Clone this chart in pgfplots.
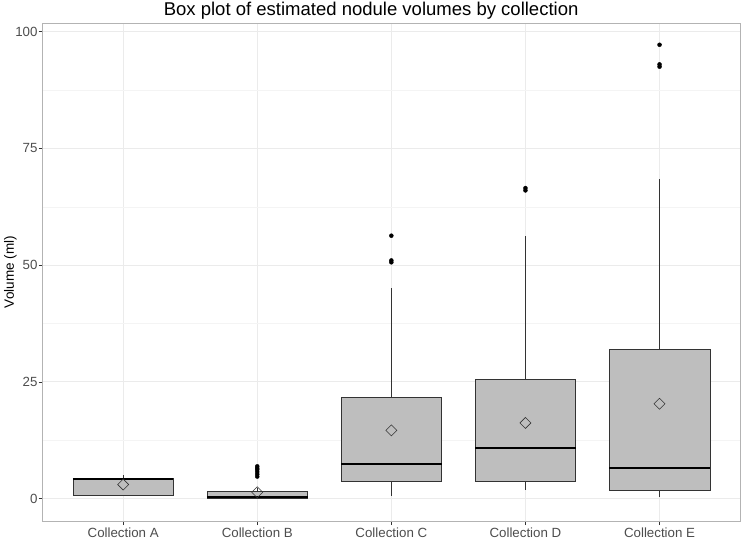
\documentclass[border=0pt]{standalone}
\usepackage{pgfplots}
\pgfplotsset{compat=1.18}
\usepgfplotslibrary{statistics}
\usepackage{fontspec}
\setmainfont{Liberation Sans}

\definecolor{gridmaj}{HTML}{EBEBEB}
\definecolor{gridmin}{HTML}{F4F4F4}
\definecolor{boxfill}{HTML}{BEBEBE}
\definecolor{boxline}{HTML}{333333}
\definecolor{ticktxt}{HTML}{4D4D4D}
\definecolor{panelframe}{HTML}{B3B3B3}

\begin{document}
\begin{tikzpicture}
\begin{axis}[
    scale only axis,
    width=697pt, height=498pt,
    xmin=0.4, xmax=5.6,
    ymin=-4.86, ymax=101.86,
    xtick={1,2,3,4,5},
    xticklabels={Collection A,Collection B,Collection C,Collection D,Collection E},
    ytick={0,25,50,75,100},
    minor ytick={12.5,37.5,62.5,87.5},
    grid=both,
    major grid style={gridmaj, line width=0.8pt},
    minor grid style={gridmin, line width=0.5pt},
    axis line style={panelframe, line width=0.8pt},
    tick pos=left,
    tick align=outside,
    major tick length=4pt,
    minor tick length=0pt,
    tick style={boxline, line width=0.6pt},
    ticklabel style={font=\fontsize{13.3}{15}\selectfont, text=ticktxt},
    yticklabel style={inner sep=1pt},
    xticklabel style={inner sep=1pt, yshift=-1.5pt},
    /pgf/number format/assume math mode=true,
    title={Box plot of estimated nodule volumes by collection},
    title style={font=\fontsize{18.5}{20}\selectfont, at={(axis description cs:0.471,1)}, anchor=base, yshift=1.5pt},
    ylabel={Volume (ml)},
    ylabel style={font=\fontsize{13.5}{15}\selectfont, at={(axis description cs:-0.0412,0.5)}, anchor=base},
    boxplot/draw direction=y,
    boxplot/box extend=0.75,
    boxplot/whisker extend=0,
    boxplot/every box/.style={fill=boxfill, draw=boxline, line width=0.6pt},
    boxplot/every whisker/.style={boxline, line width=0.6pt},
    boxplot/every median/.style={black, line width=1.5pt},
]
% boxes
\addplot[boxplot prepared={draw position=1, lower whisker=0.6, lower quartile=0.6,
    median=4.2, upper quartile=4.25, upper whisker=5.1}] coordinates {};
\addplot[boxplot prepared={draw position=2, lower whisker=0.05, lower quartile=0.07,
    median=0.3, upper quartile=1.65, upper whisker=2.2}] coordinates {};
\addplot[boxplot prepared={draw position=3, lower whisker=0.5, lower quartile=3.7,
    median=7.35, upper quartile=21.6, upper whisker=45.1}] coordinates {};
\addplot[boxplot prepared={draw position=4, lower whisker=1.9, lower quartile=3.7,
    median=10.85, upper quartile=25.6, upper whisker=56.3}] coordinates {};
\addplot[boxplot prepared={draw position=5, lower whisker=0.35, lower quartile=1.8,
    median=6.5, upper quartile=31.9, upper whisker=68.5}] coordinates {};

% outliers
\addplot[only marks, mark=*, mark size=2pt, black] coordinates {
    (2,4.7) (2,5.2) (2,5.7) (2,6.2) (2,6.5) (2,6.9)
    (3,50.6) (3,51.0) (3,56.3)
    (4,66.0) (4,66.5)
    (5,92.5) (5,93.0) (5,97.2)
};

% means
\addplot[only marks, mark=square, mark size=3.9pt,
    mark options={rotate=45, draw=boxline, line width=0.6pt, fill=none}] coordinates {
    (1,3.0) (2,1.35) (3,14.6) (4,16.2) (5,20.3)
};
\end{axis}
\pgfresetboundingbox
\path ([xshift=-42.7pt,yshift=-18pt]current axis.south west)
    rectangle ([xshift=2pt,yshift=23pt]current axis.north east);
\end{tikzpicture}
\end{document}
